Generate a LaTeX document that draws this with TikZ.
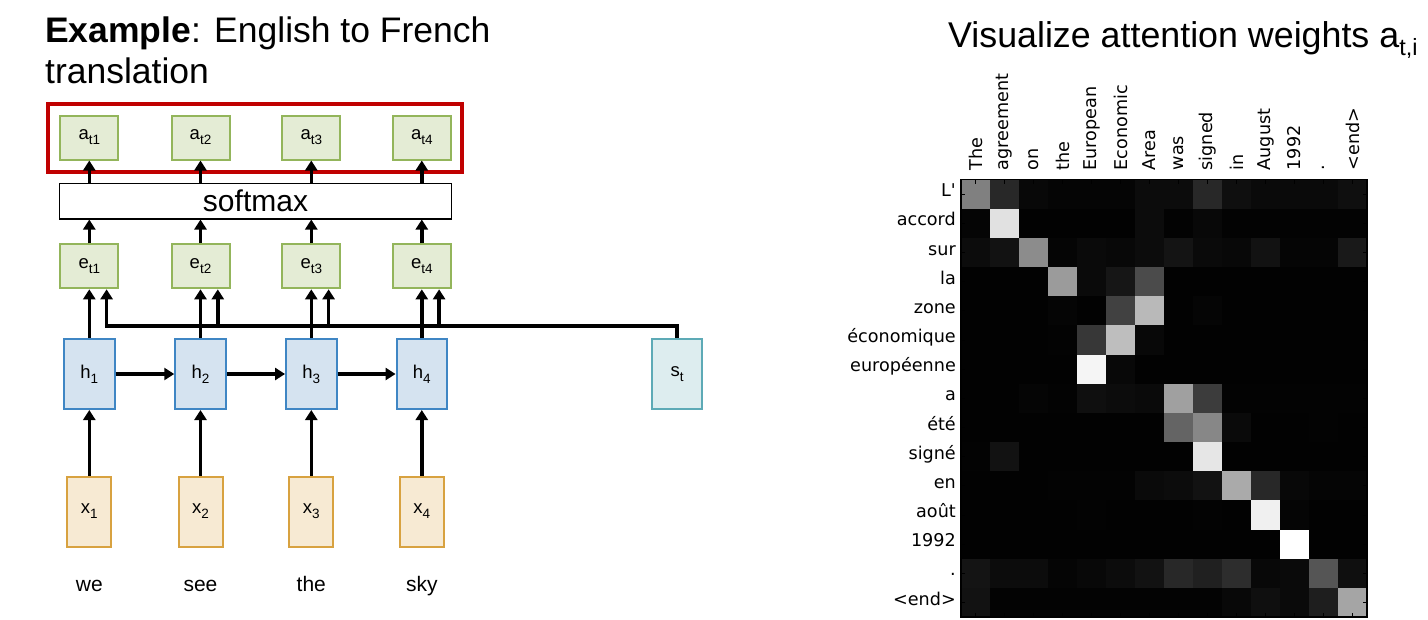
\documentclass[tikz,border=0pt]{standalone}
\usepackage{fontspec}
\setmainfont{Liberation Sans}
\newfontfamily\dejavu{DejaVu Sans}
\usetikzlibrary{arrows.meta}
\definecolor{gfill}{HTML}{E4ECD5}
\definecolor{gline}{HTML}{93B55B}
\definecolor{bfill}{HTML}{D5E3F0}
\definecolor{bline}{HTML}{3F86C4}
\definecolor{ofill}{HTML}{F7EAD3}
\definecolor{oline}{HTML}{D8A240}
\definecolor{tfill}{HTML}{DDEDEF}
\definecolor{tline}{HTML}{5DAAB6}
\definecolor{redbox}{HTML}{C00000}
\newcommand\lsub[1]{\raisebox{-5pt}{\fontsize{13.5pt}{13.5pt}\selectfont #1}}
\newcommand\bsize{\fontsize{18.5pt}{20pt}\selectfont}
\begin{document}
\begin{tikzpicture}[x=1pt,y=-1pt,
 box/.style={line width=2pt, inner sep=0pt, font=\bsize},
 abox/.style={box, fill=gfill, draw=gline, minimum width=58pt, minimum height=44pt},
 hbox/.style={box, fill=bfill, draw=bline, minimum width=50.5pt, minimum height=70pt},
 xbox/.style={box, fill=ofill, draw=oline, minimum width=44pt, minimum height=70pt},
 sbox/.style={box, fill=tfill, draw=tline, minimum width=50.5pt, minimum height=70pt},
 arr/.style={line width=3.4pt, -{Triangle[length=10pt,width=12pt]}},
 word/.style={font=\fontsize{21pt}{24pt}\selectfont, anchor=base, inner sep=0pt},
 rowlab/.style={font=\dejavu\fontsize{17.6pt}{20pt}\selectfont, anchor=mid east, inner sep=0pt},
 collab/.style={font=\dejavu\fontsize{17.6pt}{20pt}\selectfont, anchor=west, rotate=90, inner sep=0pt},
 tick/.style={line width=0.8pt, black},
 title/.style={anchor=base west, inner sep=0pt},
]
\useasboundingbox[fill=white] (0,0) rectangle (1428,619);

% titles
\node[title, font=\fontsize{35.5pt}{40pt}\selectfont] (t1) at (45,42) {\textbf{Example}: English to French};
\node[title, font=\fontsize{35.5pt}{40pt}\selectfont] (t2) at (45,83) {translation};
\node[title, font=\fontsize{35.8pt}{40pt}\selectfont] (t3) at (948,47) {Visualize attention weights a\raisebox{-0.25em}{\fontsize{23.5pt}{23.5pt}\selectfont t,i}};

% red group box
\node[draw=redbox, line width=4pt, minimum width=414pt, minimum height=68.3pt, inner sep=0pt] (grp) at (255,137.85) {};

% softmax
\node[draw, line width=1.5pt, minimum width=392pt, minimum height=35.5pt, inner sep=0pt, font=\fontsize{30pt}{34pt}\selectfont] (sm) at (255.5,201) {softmax};

% columns
\foreach \i/\cx/\w in {1/89.3/we, 2/200.5/see, 3/311.3/the, 4/421.8/sky} {
  \node[abox] (a\i) at (\cx,137.5) {a\lsub{t\i}};
  \node[abox] (e\i) at (\cx,266.3) {e\lsub{t\i}};
  \node[hbox] (h\i) at (\cx,374) {h\lsub{\i}};
  \node[xbox] (x\i) at (\cx,511.5) {x\lsub{\i}};
  \node[word] (w\i) at (\cx,591) {\w};
  \draw[arr] (sm.north -| a\i) -- (a\i.south);
  \draw[arr] (e\i.north) -- (e\i.north |- sm.south);
  \draw[arr] (h\i.north) -- (e\i.south -| h\i.north);
  \draw[arr] (x\i.north) -- (h\i.south);
  \coordinate (j\i) at (\cx+17.3,326);
}
\draw[arr] (h1) -- (h2);
\draw[arr] (h2) -- (h3);
\draw[arr] (h3) -- (h4);

% s_t and bus
\node[sbox] (st) at (677,374) {s\lsub{t}};
\draw[arr] (st.north) |- (j1) -- (j1 |- e1.south);
\foreach \i in {2,3,4} \draw[arr, line cap=rect] (j\i) -- (j\i |- e\i.south);

% heatmap
\def\hx{961}\def\hy{179.5}\def\cw{29}\def\ch{29.167}
\foreach \rowvals [count=\r from 0] in {
 {128,40,8,5,5,5,12,12,40,15,10,10,10,15},
 {5,225,2,2,2,2,12,3,8,3,3,3,3,3},
 {12,18,140,5,10,8,12,20,10,8,18,5,5,25},
 {2,2,2,155,10,22,75,2,2,2,2,2,2,2},
 {2,2,2,5,2,65,185,2,5,2,2,2,2,2},
 {2,2,2,3,55,190,8,2,2,2,2,2,2,2},
 {2,2,2,2,245,8,2,2,2,2,2,2,2,2},
 {2,2,5,3,15,12,10,160,60,3,3,3,3,3},
 {2,2,2,2,2,2,2,100,135,10,2,2,3,2},
 {3,18,2,2,2,2,2,2,230,2,2,2,2,2},
 {2,2,2,3,3,3,10,12,18,170,40,8,5,5},
 {2,2,2,2,3,2,2,2,3,2,240,5,2,2},
 {2,2,2,2,2,2,2,2,2,2,2,255,2,2},
 {20,12,12,5,8,12,18,40,32,45,8,10,85,15},
 {18,3,3,3,3,3,3,3,3,8,15,10,30,165}} {
  \foreach \v [count=\c from 0] in \rowvals {
    \pgfmathsetmacro\p{\v/2.55}
    \fill[white!\p!black] (\hx+\c*\cw,\hy+\r*\ch) rectangle ++(\cw+0.3,\ch+0.3);
  }
}
\foreach \c in {0,...,13} {
  \draw[tick] (\hx+\c*\cw+14.5,\hy) -- ++(0,4);
  \draw[tick] (\hx+\c*\cw+14.5,617) -- ++(0,-4);
}
\foreach \r in {0,...,14} {
  \draw[tick] (\hx,\hy+\r*\ch+14.58) -- ++(4,0);
  \draw[tick] (1367,\hy+\r*\ch+14.58) -- ++(-4,0);
}
\draw[line width=1.3pt] (\hx,\hy) rectangle (1367,617);

\foreach \t [count=\c from 0] in {The,agreement,on,the,European,Economic,Area,was,signed,in,August,1992,.,<end>}
  \node[collab] (c\c) at (\hx+\c*\cw+14.5,170.5) {\t};
\foreach \t [count=\r from 0] in {{L\textquotesingle},accord,sur,la,zone,économique,européenne,a,été,signé,en,août,1992,.,<end>}
  \node[rowlab] (r\r) at (956,\hy+\r*\ch+14.58) {\t};
\end{tikzpicture}
\end{document}
